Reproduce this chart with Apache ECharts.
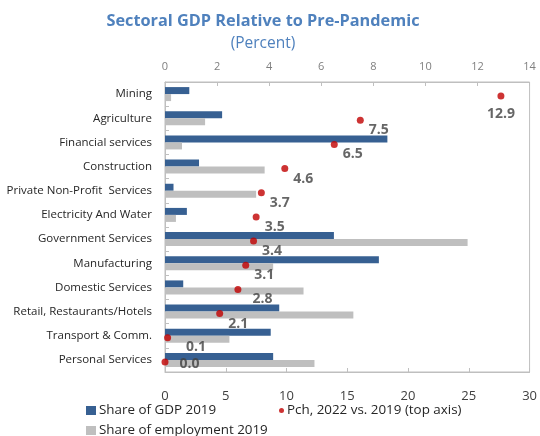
<!DOCTYPE html>
<html><head><meta charset="utf-8">
<script src="https://cdn.jsdelivr.net/npm/echarts@6/dist/echarts.min.js"></script>
<style>html,body{margin:0;padding:0;background:#fff}#c{width:540px;height:436px}</style>
</head><body><div id="c"></div>
<script>
const categories = ['Mining','Agriculture','Financial services','Construction','Private Non-Profit  Services','Electricity And Water','Government Services','Manufacturing','Domestic Services','Retail, Restaurants/Hotels','Transport & Comm.','Personal Services'];
const gdpShare = [2.0, 4.7, 18.3, 2.8, 0.7, 1.8, 13.9, 17.6, 1.5, 9.4, 8.7, 8.9];
const empShare = [0.5, 3.3, 1.4, 8.2, 7.5, 0.9, 24.9, 8.9, 11.4, 15.5, 5.3, 12.3];
const pch = [12.9, 7.5, 6.5, 4.6, 3.7, 3.5, 3.4, 3.1, 2.8, 2.1, 0.1, 0.0];
const bottomTicks = [0, 5, 10, 15, 20, 25, 30];
const topTicks = [0, 2, 4, 6, 8, 10, 12, 14];

const font = 'Open Sans';
const chart = echarts.init(document.getElementById('c'));
const pchData = pch.map((v, i) => {
  const d = {value: [v, categories[i]]};
  if (i === 0) d.label = {position: 'bottom', offset: [0, 2]};
  if (i === pch.length - 1) d.label = {offset: [6, 2]};
  if (i === pch.length - 2) d.label = {offset: [10, 9]};
  if (i === pch.length - 4) d.label = {offset: [6, 10]};
  return d;
});
const legText = {fontSize: 13.4, color: '#262626', fontFamily: font, padding: [0,0,0,-2]};
chart.setOption({
  animation: false,
  textStyle: {fontFamily: font},
  title: {
    text: 'Sectoral GDP Relative to Pre-Pandemic',
    subtext: '(Percent)',
    left: 258, textAlign: 'center', top: 8, itemGap: 7,
    textStyle: {fontFamily: font, fontSize: 16.3, fontWeight: 'bold', color: '#4F81BD'},
    subtextStyle: {fontFamily: font, fontSize: 15.5, color: '#4F81BD'}
  },
  grid: {left: 165, right: 9, top: 82, bottom: 64, show: true, borderColor: '#BFBFBF', borderWidth: 1},
  xAxis: [
    {type: 'value', position: 'bottom', min: bottomTicks[0], max: bottomTicks[bottomTicks.length-1], interval: 5,
     axisLine: {show: true, lineStyle: {color: '#BFBFBF'}},
     axisTick: {show: true, inside: true, length: 4, lineStyle: {color: '#BFBFBF'}},
     splitLine: {show: false},
     axisLabel: {margin: 18, fontSize: 13, color: '#404040', fontFamily: font}},
    {type: 'value', position: 'top', min: topTicks[0], max: topTicks[topTicks.length-1], interval: 2,
     axisLine: {show: true, lineStyle: {color: '#BFBFBF'}},
     axisTick: {show: true, inside: true, length: 4, lineStyle: {color: '#BFBFBF'}},
     splitLine: {show: false},
     axisLabel: {margin: 10, fontSize: 11, color: '#7F7F7F', fontFamily: font}}
  ],
  yAxis: {
    type: 'category', data: categories, inverse: true,
    axisLine: {show: true, lineStyle: {color: '#BFBFBF'}},
    axisTick: {show: true, inside: true, length: 4, lineStyle: {color: '#BFBFBF'}},
    axisLabel: {margin: 13, fontSize: 11.5, color: '#262626', fontFamily: font}
  },
  legend: [
    {data: ['Share of GDP 2019'], left: 86, top: 404, padding: 0,
     itemWidth: 10, itemHeight: 9, icon: 'rect', textStyle: legText},
    {data: ['Share of employment 2019'], left: 86, top: 424, padding: 0,
     itemWidth: 10, itemHeight: 9, icon: 'rect', textStyle: legText},
    {data: ['Pch, 2022 vs. 2019 (top axis)'], left: 279, top: 404, padding: 0,
     itemWidth: 5, itemHeight: 5, icon: 'circle', textStyle: legText}
  ],
  series: [
    {name: 'Share of GDP 2019', type: 'bar', xAxisIndex: 0, data: gdpShare, barWidth: 7, barGap: '0%',
     itemStyle: {color: '#376092'}},
    {name: 'Share of employment 2019', type: 'bar', xAxisIndex: 0, data: empShare, barWidth: 7, barGap: '0%',
     itemStyle: {color: '#BFBFBF'}},
    {name: 'Pch, 2022 vs. 2019 (top axis)', type: 'scatter', xAxisIndex: 1, data: pchData,
     symbol: 'circle', symbolSize: 7, symbolOffset: [0, 2],
     itemStyle: {color: '#C00000'},
     label: {show: true, position: 'right', offset: [0, 10], fontSize: 14, fontWeight: 'bold', color: '#404040', fontFamily: font,
       formatter: p => p.value[0].toFixed(1)},
     z: 5}
  ]
});
</script></body></html>
